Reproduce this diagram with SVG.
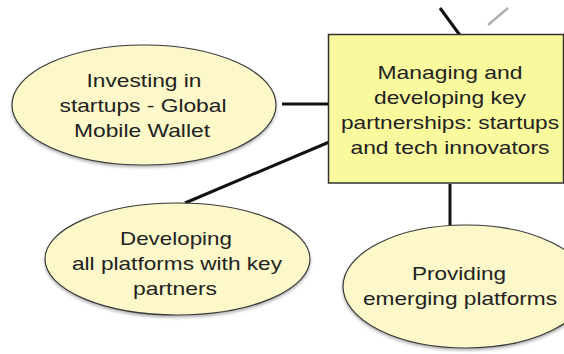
<svg xmlns="http://www.w3.org/2000/svg" width="564" height="354" viewBox="0 0 564 354">
  <defs>
    <filter id="shadow" x="-10%" y="-10%" width="120%" height="130%">
      <feDropShadow dx="0" dy="2" stdDeviation="1.5" flood-color="#000" flood-opacity="0.3"/>
    </filter>
  </defs>
  <style>
    .ell { fill: #fcf8c9; stroke: #3a3a3a; stroke-width: 1.2; filter: url(#shadow); }
    .box { fill: #f9f99d; stroke: #333; stroke-width: 1.5; }
    .lbl { font-family: "Liberation Sans", Arial, Helvetica, sans-serif; font-size: 19px; fill: #222; text-anchor: middle; }
    .edge { stroke: #111; stroke-width: 3; fill: none; stroke-linecap: butt; }
    .edge-light { stroke: #b0b0b0; stroke-width: 2.5; fill: none; }
  </style>
  <rect width="564" height="354" fill="#ffffff"/>

  <g id="connectors">
    <line class="edge" x1="440" y1="8" x2="462" y2="38"/>
    <line class="edge-light" x1="488" y1="25" x2="508" y2="8"/>
    <line class="edge" x1="282" y1="104" x2="337" y2="104"/>
    <line class="edge" x1="185" y1="203" x2="334" y2="140"/>
    <line class="edge" x1="450" y1="184" x2="450" y2="225"/>
  </g>

  <g id="node-managing">
    <rect class="box" x="328.5" y="34.5" width="235" height="148.5"/>
    <text class="lbl" x="450" y="79" textLength="145" lengthAdjust="spacingAndGlyphs">Managing and</text>
    <text class="lbl" x="450" y="104" textLength="152" lengthAdjust="spacingAndGlyphs">developing key</text>
    <text class="lbl" x="450" y="129" textLength="218" lengthAdjust="spacingAndGlyphs">partnerships: startups</text>
    <text class="lbl" x="450" y="154" textLength="199" lengthAdjust="spacingAndGlyphs">and tech innovators</text>
  </g>

  <g id="node-investing">
    <ellipse class="ell" cx="144" cy="105" rx="132" ry="60"/>
    <text class="lbl" x="144" y="87" textLength="115" lengthAdjust="spacingAndGlyphs">Investing in</text>
    <text class="lbl" x="143" y="112" textLength="167" lengthAdjust="spacingAndGlyphs">startups - Global</text>
    <text class="lbl" x="142" y="137" textLength="136" lengthAdjust="spacingAndGlyphs">Mobile Wallet</text>
  </g>

  <g id="node-developing">
    <ellipse class="ell" cx="177.5" cy="259" rx="132.5" ry="56"/>
    <text class="lbl" x="176" y="245" textLength="112" lengthAdjust="spacingAndGlyphs">Developing</text>
    <text class="lbl" x="177" y="270" textLength="210" lengthAdjust="spacingAndGlyphs">all platforms with key</text>
    <text class="lbl" x="175" y="295" textLength="84" lengthAdjust="spacingAndGlyphs">partners</text>
  </g>

  <g id="node-providing">
    <ellipse class="ell" cx="466" cy="286.5" rx="123" ry="61.5"/>
    <text class="lbl" x="459" y="280" textLength="94" lengthAdjust="spacingAndGlyphs">Providing</text>
    <text class="lbl" x="460" y="305" textLength="194" lengthAdjust="spacingAndGlyphs">emerging platforms</text>
  </g>
</svg>
